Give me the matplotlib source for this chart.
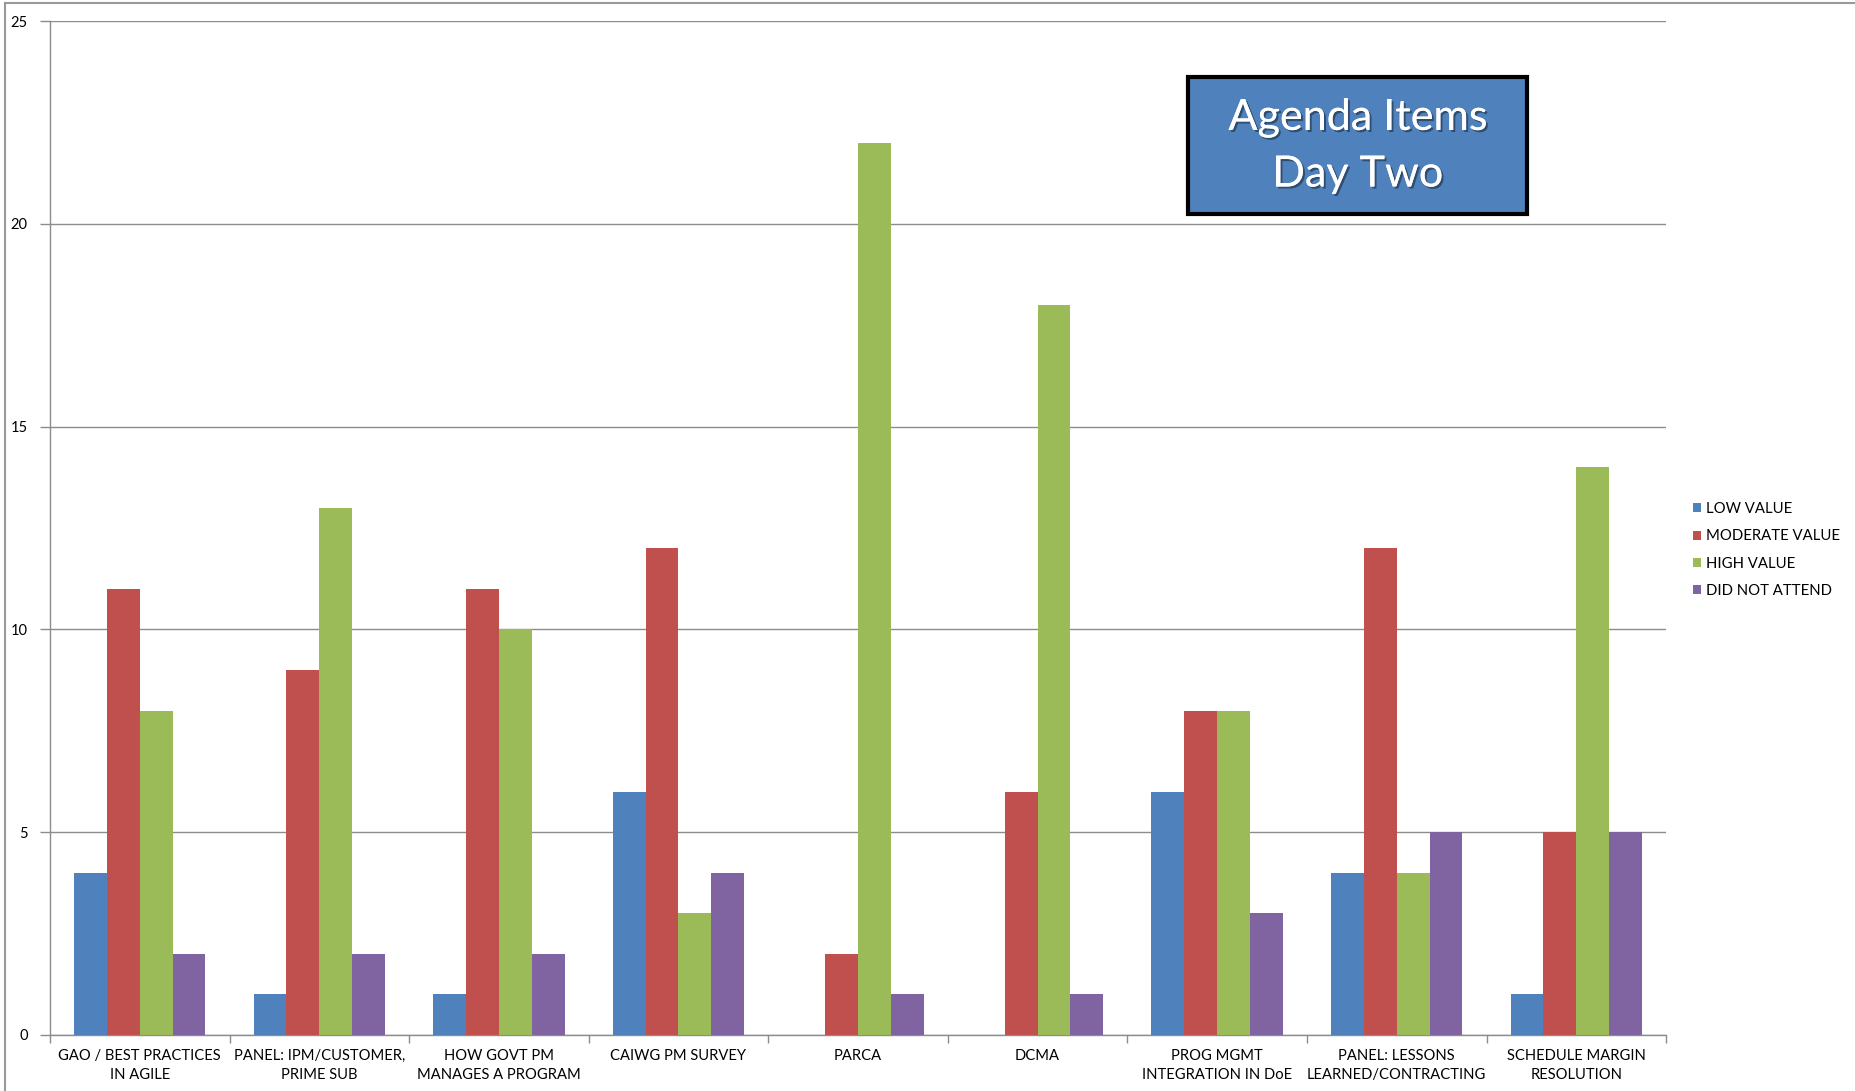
import numpy as np
import matplotlib
matplotlib.use('Agg')
from matplotlib import pyplot as plt
from matplotlib.patches import Rectangle
from matplotlib.lines import Line2D
import matplotlib.patheffects as pe

plt.rcParams['font.family'] = ['Lato', 'DejaVu Sans']

categories = ["GAO / BEST PRACTICES\nIN AGILE", "PANEL: IPM/CUSTOMER,\nPRIME SUB",
              "HOW GOVT PM\nMANAGES A PROGRAM", "CAIWG PM SURVEY", "PARCA", "DCMA",
              "PROG MGMT\nINTEGRATION IN DoE", "PANEL: LESSONS\nLEARNED/CONTRACTING",
              "SCHEDULE MARGIN\nRESOLUTION"]
series_names = ["LOW VALUE", "MODERATE VALUE", "HIGH VALUE", "DID NOT ATTEND"]
low_value = [4, 1, 1, 6, 0, 0, 6, 4, 1]
moderate_value = [11, 9, 11, 12, 2, 6, 8, 12, 5]
high_value = [8, 13, 10, 3, 22, 18, 8, 4, 14]
did_not_attend = [2, 2, 2, 4, 1, 1, 3, 5, 5]
y_ticks = [0, 5, 10, 15, 20, 25]

colors = ['#4F81BD', '#C0504D', '#9BBB59', '#8064A2']
grid_color = '#8C8C8C'

fig = plt.figure(figsize=(18.55, 10.91), dpi=100)
ax = fig.add_axes([0.02695, 0.05133, 0.8712, 0.92942])

x = np.arange(len(categories))
width = 0.183
for i, (name, vals) in enumerate(zip(series_names,
                                     [low_value, moderate_value, high_value, did_not_attend])):
    ax.bar(x + (i - 1.5) * width, vals, width, color=colors[i], label=name, zorder=3)

ax.set_xlim(-0.5, len(categories) - 0.5)
ax.set_ylim(0, 25)
ax.set_yticks(y_ticks)
ax.yaxis.grid(True, color=grid_color, linewidth=1, zorder=0)
ax.tick_params(axis='y', length=7, width=1, color=grid_color, pad=9, labelsize=10.5)

ax.set_xticks(x)
ax.set_xticklabels(categories, fontsize=10.6, linespacing=1.45)
ax.tick_params(axis='x', which='major', length=0, pad=10)
ax.set_xticks(np.arange(len(categories) + 1) - 0.5, minor=True)
ax.tick_params(axis='x', which='minor', length=6, width=1, color=grid_color)

for s in ['top', 'right']:
    ax.spines[s].set_visible(False)
for s in ['left', 'bottom']:
    ax.spines[s].set_color(grid_color)
    ax.spines[s].set_linewidth(1)

ax.legend(loc='center left', bbox_to_anchor=(0.9125, 0.4959), bbox_transform=fig.transFigure,
          frameon=False, fontsize=10.7, handlelength=0.55, handleheight=0.55,
          handletextpad=0.35, labelspacing=0.89, borderpad=0, borderaxespad=0)

# title box
fig.patches.append(Rectangle((0.6404, 0.8039), 0.1827, 0.1256, transform=fig.transFigure,
                             facecolor='#4F81BD', edgecolor='black', linewidth=3, zorder=5))
fig.text(0.7318, 0.8660, "Agenda Items\nDay Two", color='white', fontsize=31,
         ha='center', va='center', linespacing=1.6, zorder=6,
         path_effects=[pe.withSimplePatchShadow(offset=(1.5, -1.5), shadow_rgbFace='black', alpha=0.4),
                       pe.Normal()])

# outer frame
fig.lines.append(Line2D([0.0027, 0.0027], [0, 0.9973], transform=fig.transFigure, color='#999999', linewidth=1.5))
fig.lines.append(Line2D([0.0027, 1.0], [0.9973, 0.9973], transform=fig.transFigure, color='#999999', linewidth=1.5))

fig.savefig('out.png', dpi=100)
